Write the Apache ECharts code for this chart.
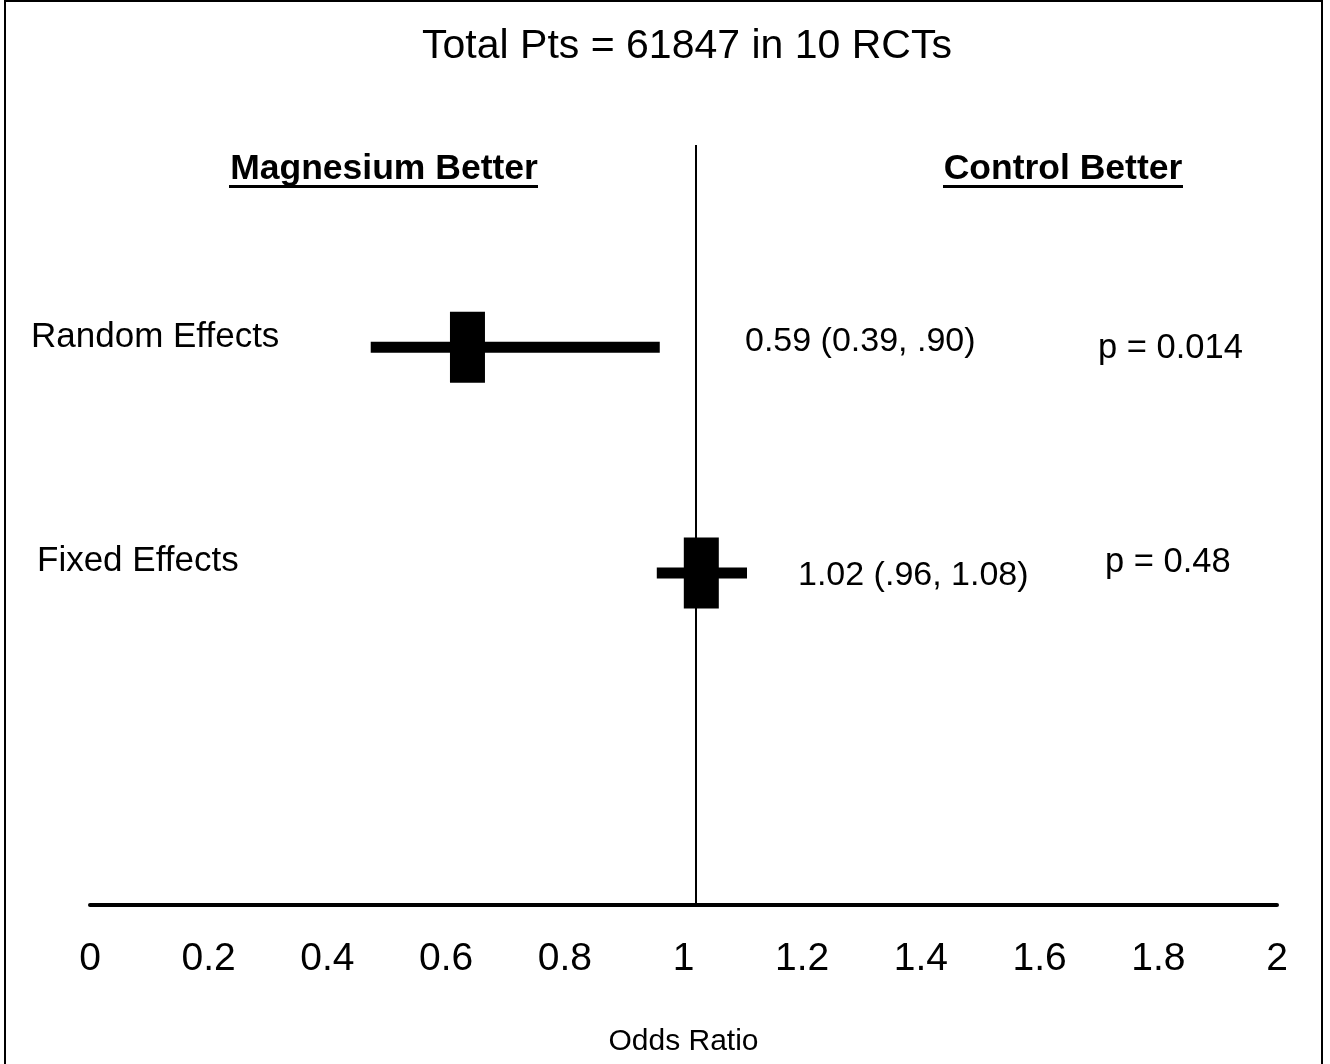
<!DOCTYPE html>
<html>
<head>
<meta charset="utf-8">
<script src="https://cdn.jsdelivr.net/npm/echarts@6/dist/echarts.min.js"></script>
<style>
html,body{margin:0;padding:0;background:#fff;}
#chart{width:1330px;height:1064px;}
</style>
</head>
<body>
<div id="chart"></div>
<script>
// ---- data ----
const titleText = 'Total Pts = 61847 in 10 RCTs';
const sideLabels = ['Magnesium Better', 'Control Better'];
const rowLabels = ['Random Effects', 'Fixed Effects'];
const estimates = [0.636, 1.03];      // box centre (as drawn)
const lowerCI = [0.473, 0.955];       // whisker left end (as drawn)
const upperCI = [0.960, 1.107];       // whisker right end (as drawn)
const rowPos = [73.4, 43.7];          // vertical row position on a 0-100 scale
const statTexts = ['0.59 (0.39, .90)', '1.02 (.96, 1.08)'];
const pTexts = ['p = 0.014', 'p = 0.48'];
const refLine = 1.02;
const xTicks = [0, 0.2, 0.4, 0.6, 0.8, 1, 1.2, 1.4, 1.6, 1.8, 2];
const xName = 'Odds Ratio';

const FONT = '"Liberation Sans", Arial, sans-serif';
const chart = echarts.init(document.getElementById('chart'), null, {renderer: 'canvas'});

const seriesData = estimates.map((e, i) => [e, lowerCI[i], upperCI[i], rowPos[i]]);

function renderItem(params, api) {
  const est = api.value(0), lo = api.value(1), hi = api.value(2), y = api.value(3);
  const pL = api.coord([lo, y]);
  const pR = api.coord([hi, y]);
  const pE = api.coord([est, y]);
  const boxW = 35, boxH = 71, lineH = 11;
  return {
    type: 'group',
    children: [
      {type: 'rect', shape: {x: pL[0], y: pE[1] - lineH / 2, width: pR[0] - pL[0], height: lineH}, style: {fill: '#000'}},
      {type: 'rect', shape: {x: pE[0] - boxW / 2, y: pE[1] - boxH / 2, width: boxW, height: boxH}, style: {fill: '#000'}}
    ]
  };
}

const gLeft = 90, gRight = 53, gTop = 145, gBottom = 159;

const graphics = [
  {type: 'rect', shape: {x: 5, y: 1, width: 1317, height: 1080}, style: {fill: 'none', stroke: '#000', lineWidth: 2}, z: 100},
  {type: 'text', x: 687, y: 47, style: {text: titleText, font: '41px ' + FONT, fill: '#000', textAlign: 'center', textVerticalAlign: 'middle'}},
  {type: 'text', x: 384, y: 169, style: {text: sideLabels[0], font: 'bold 35.5px ' + FONT, fill: '#000', textAlign: 'center', textVerticalAlign: 'middle'}},
  {type: 'rect', shape: {x: 229, y: 185, width: 309, height: 3}, style: {fill: '#000'}},
  {type: 'text', x: 1063, y: 169, style: {text: sideLabels[1], font: 'bold 35.5px ' + FONT, fill: '#000', textAlign: 'center', textVerticalAlign: 'middle'}},
  {type: 'rect', shape: {x: 943, y: 185, width: 240, height: 3}, style: {fill: '#000'}},
  {type: 'text', x: 31, y: 337, style: {text: rowLabels[0], font: '35px ' + FONT, fill: '#000', textAlign: 'left', textVerticalAlign: 'middle'}},
  {type: 'text', x: 37, y: 561, style: {text: rowLabels[1], font: '35px ' + FONT, fill: '#000', textAlign: 'left', textVerticalAlign: 'middle'}},
  {type: 'text', x: 745, y: 342, style: {text: statTexts[0], font: '34px ' + FONT, fill: '#000', textAlign: 'left', textVerticalAlign: 'middle'}},
  {type: 'text', x: 798, y: 576, style: {text: statTexts[1], font: '34px ' + FONT, fill: '#000', textAlign: 'left', textVerticalAlign: 'middle'}},
  {type: 'text', x: 1098, y: 348, style: {text: pTexts[0], font: '34.5px ' + FONT, fill: '#000', textAlign: 'left', textVerticalAlign: 'middle'}},
  {type: 'text', x: 1105, y: 562, style: {text: pTexts[1], font: '34.5px ' + FONT, fill: '#000', textAlign: 'left', textVerticalAlign: 'middle'}}
];

chart.setOption({
  backgroundColor: '#fff',
  animation: false,
  grid: {left: gLeft, right: gRight, top: gTop, bottom: gBottom, containLabel: false},
  xAxis: {
    type: 'value', min: 0, max: 2, interval: 0.2,
    axisLine: {show: true, onZero: false, lineStyle: {color: '#000', width: 4}},
    axisTick: {show: false},
    splitLine: {show: false},
    axisLabel: {
      fontFamily: FONT, fontSize: 39, color: '#000', margin: 54, verticalAlign: 'middle',
      formatter: v => { const t = xTicks.find(k => Math.abs(k - v) < 1e-6); return t === undefined ? '' : String(t); }
    },
    name: xName, nameLocation: 'middle', nameGap: 137,
    nameTextStyle: {fontFamily: FONT, fontSize: 30, color: '#000', verticalAlign: 'middle'}
  },
  yAxis: {type: 'value', min: 0, max: 100, show: false},
  graphic: graphics,
  series: [{
    type: 'custom',
    renderItem: renderItem,
    data: seriesData,
    encode: {x: [0, 1, 2], y: 3},
    markLine: {
      silent: true, symbol: 'none', label: {show: false},
      lineStyle: {color: '#000', width: 2, type: 'solid'},
      data: [{xAxis: refLine}]
    },
    z: 5
  }]
});
</script>
</body>
</html>
